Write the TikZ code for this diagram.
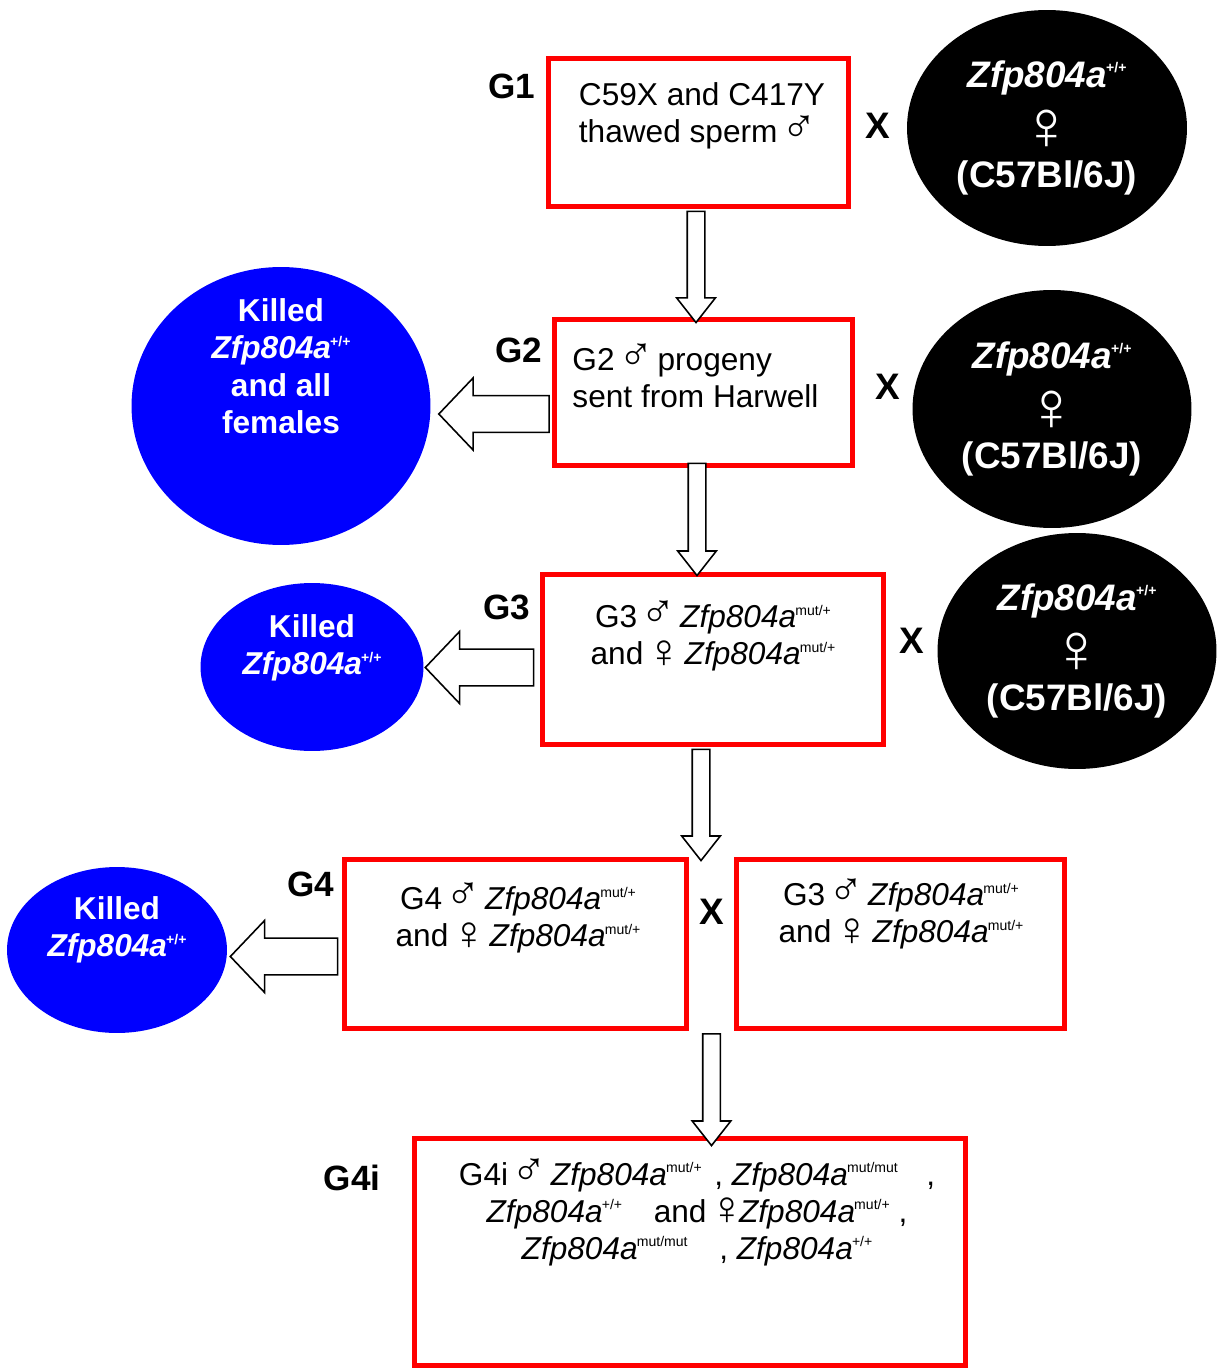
\documentclass[tikz,border=0pt]{standalone}
\usepackage{fontspec}
\setmainfont{Liberation Sans}
\usetikzlibrary{calc,shapes.geometric}
\definecolor{boxred}{RGB}{255,0,0}
\definecolor{killblue}{RGB}{0,0,255}
\newcommand{\msym}{\makebox[0.8em]{\smash{\scalebox{1.5}{♂}}}}
\newcommand{\fsym}{\makebox[0.75em]{\smash{\raisebox{-0.15ex}{\scalebox{1.5}{♀}}}}}
\newcommand{\bigfsym}{\smash{\mdseries\raisebox{-0.6ex}{\scalebox{1.9}{♀}}}}
\newcommand{\sups}[1]{\kern-0.5pt\raisebox{0.75ex}{\fontsize{8}{8}\selectfont #1}}
\newcommand{\gene}[1]{\textit{Zfp804a}\sups{#1}}
% hollow block arrows: tail point, then tip (x from tail for down, y from tail for left)
\newcommand{\dnblock}[2]{%
  \draw[blockarrow] let \p1=(#1), \p2=(#2) in
    (\x1-5pt,\y1) -- (\x1+5pt,\y1) -- (\x1+5pt,\y2+14pt) -- (\x1+11pt,\y2+14pt)
    -- (\x1,\y2) -- (\x1-11pt,\y2+14pt) -- (\x1-5pt,\y2+14pt) -- cycle;}
\newcommand{\lfblock}[2]{%
  \draw[blockarrow] let \p1=(#1), \p2=(#2) in
    (\x1,\y1+10.5pt) -- (\x2+19.5pt,\y1+10.5pt) -- (\x2+19.5pt,\y1+20.5pt) -- (\x2,\y1)
    -- (\x2+19.5pt,\y1-20.5pt) -- (\x2+19.5pt,\y1-10.5pt) -- (\x1,\y1-10.5pt) -- cycle;}
\tikzset{
  genbox/.style={draw=boxred, line width=2.8pt, rectangle, inner sep=0pt},
  boxtext/.style={font=\fontsize{18}{21}\selectfont, inner sep=0pt},
  glabel/.style={font=\bfseries\fontsize{20}{24}\selectfont, inner sep=0pt},
  cross/.style={font=\bfseries\fontsize{21}{24}\selectfont, inner sep=0pt},
  wildtype/.style={ellipse, fill=black, text=white, inner sep=0pt, align=center,
    font=\bfseries\fontsize{21}{28.5}\selectfont},
  killed/.style={ellipse, fill=killblue, inner sep=0pt},
  killtext/.style={text=white, align=center, inner sep=0pt,
    font=\bfseries\fontsize{18}{21.3}\selectfont},
  blockarrow/.style={draw=black, fill=white, line width=0.9pt, line join=miter},
}
\begin{document}
\begin{tikzpicture}[x=0.02cm, y=-0.02cm]
\useasboundingbox (0,0) rectangle (1217,1371);

% generation boxes
\node[genbox, minimum width=6cm, minimum height=2.96cm] (g1) at (698.5,132.5) {};
\node[genbox, minimum width=5.96cm, minimum height=2.92cm] (g2) at (703.5,392.5) {};
\node[genbox, minimum width=6.82cm, minimum height=3.4cm] (g3) at (713,659.5) {};
\node[genbox, minimum width=6.84cm, minimum height=3.38cm] (g4) at (515.5,944) {};
\node[genbox, minimum width=6.56cm, minimum height=3.38cm] (g3r) at (900.5,944) {};
\node[genbox, minimum width=11.02cm, minimum height=4.54cm] (g4i) at (690,1252) {};

\node[boxtext, align=left] (g1t) at (702,116) {C59X and C417Y\\thawed sperm \msym};
\node[boxtext, align=left] (g2t) at (695.5,378) {G2 \msym{} progeny\\sent from Harwell};
\node[boxtext, align=center] (g3t) at (713,638) {G3 \msym{} \gene{mut/+}\\and \fsym{} \gene{mut/+}};
\node[boxtext, align=center] (g4t) at (518,920) {G4 \msym{} \gene{mut/+}\\and \fsym{} \gene{mut/+}};
\node[boxtext, align=center] (g3rt) at (901,916) {G3 \msym{} \gene{mut/+}\\and \fsym{} \gene{mut/+}};
\node[boxtext, align=center] (g4it) at (697,1214) {G4i \msym{} \gene{mut/+}\hspace{0.4em}, \gene{mut/mut}\hspace{0.9em},\\
  \gene{+/+}\hspace{1em}and \fsym\gene{mut/+} ,\\
  \gene{mut/mut}\hspace{1em}, \gene{+/+}};

% generation labels
\node[glabel] (l1) at (512,86) {G1};
\node[glabel] (l2) at (519,350) {G2};
\node[glabel] (l3) at (507,607) {G3};
\node[glabel] (l4) at (311,884) {G4};
\node[glabel] (l4i) at (352,1178) {G4i};

% wild type females
\node[wildtype, minimum width=5.6cm, minimum height=4.72cm] (w1) at (1047,128)
  {\textit{Zfp804a}\sups{+/+}\\\bigfsym\\(C57Bl/6J)};
\node[wildtype, minimum width=5.58cm, minimum height=4.76cm] (w2) at (1052,409)
  {\textit{Zfp804a}\sups{+/+}\\\bigfsym\\(C57Bl/6J)};
\node[wildtype, minimum width=5.58cm, minimum height=4.72cm] (w3) at (1077,651)
  {\textit{Zfp804a}\sups{+/+}\\\bigfsym\\(C57Bl/6J)};
\node[cross] (x1) at (878,126) {X};
\node[cross] (x2) at (888,387) {X};
\node[cross] (x3) at (912,641) {X};
\node[cross] (x4) at (712,912) {X};

% killed
\node[killed, minimum width=5.98cm, minimum height=5.56cm] (k2) at (281,406) {};
\node[killtext] (k2t) at (281,366) {Killed\\\textit{Zfp804a}\sups{+/+}\\and all\\females};
\node[killed, minimum width=4.46cm, minimum height=3.36cm] (k3) at (312,667) {};
\node[killtext] (k3t) at (312,648) {Killed\\\textit{Zfp804a}\sups{+/+}};
\node[killed, minimum width=4.4cm, minimum height=3.32cm] (k4) at (117,950) {};
\node[killtext] (k4t) at (117,930) {Killed\\\textit{Zfp804a}\sups{+/+}};

% arrows
\dnblock{$(g1.south)+(-2.5,2.5)$}{$(g2.north)+(0,5.5)$}
\dnblock{$(g2.south)+(-6.5,-4.5)$}{$(g3.north)+(0,3.5)$}
\dnblock{$(g3.south)+(-12,2.5)$}{$(g4.north)+(0,3.5)$}
\dnblock{$(g4.south east)!0.5!(g3r.south west)+(0,3)$}{$(g4i.north)+(0,9.5)$}
\lfblock{$(g2.west)+(-3,21.5)$}{$(k2.east)+(8,0)$}
\lfblock{$(g3.west)+(-6.5,8)$}{$(k3.east)+(1.5,0)$}
\lfblock{$(g4.west)+(-4.5,12.5)$}{$(k4.east)+(3,0)$}

\end{tikzpicture}
\end{document}
